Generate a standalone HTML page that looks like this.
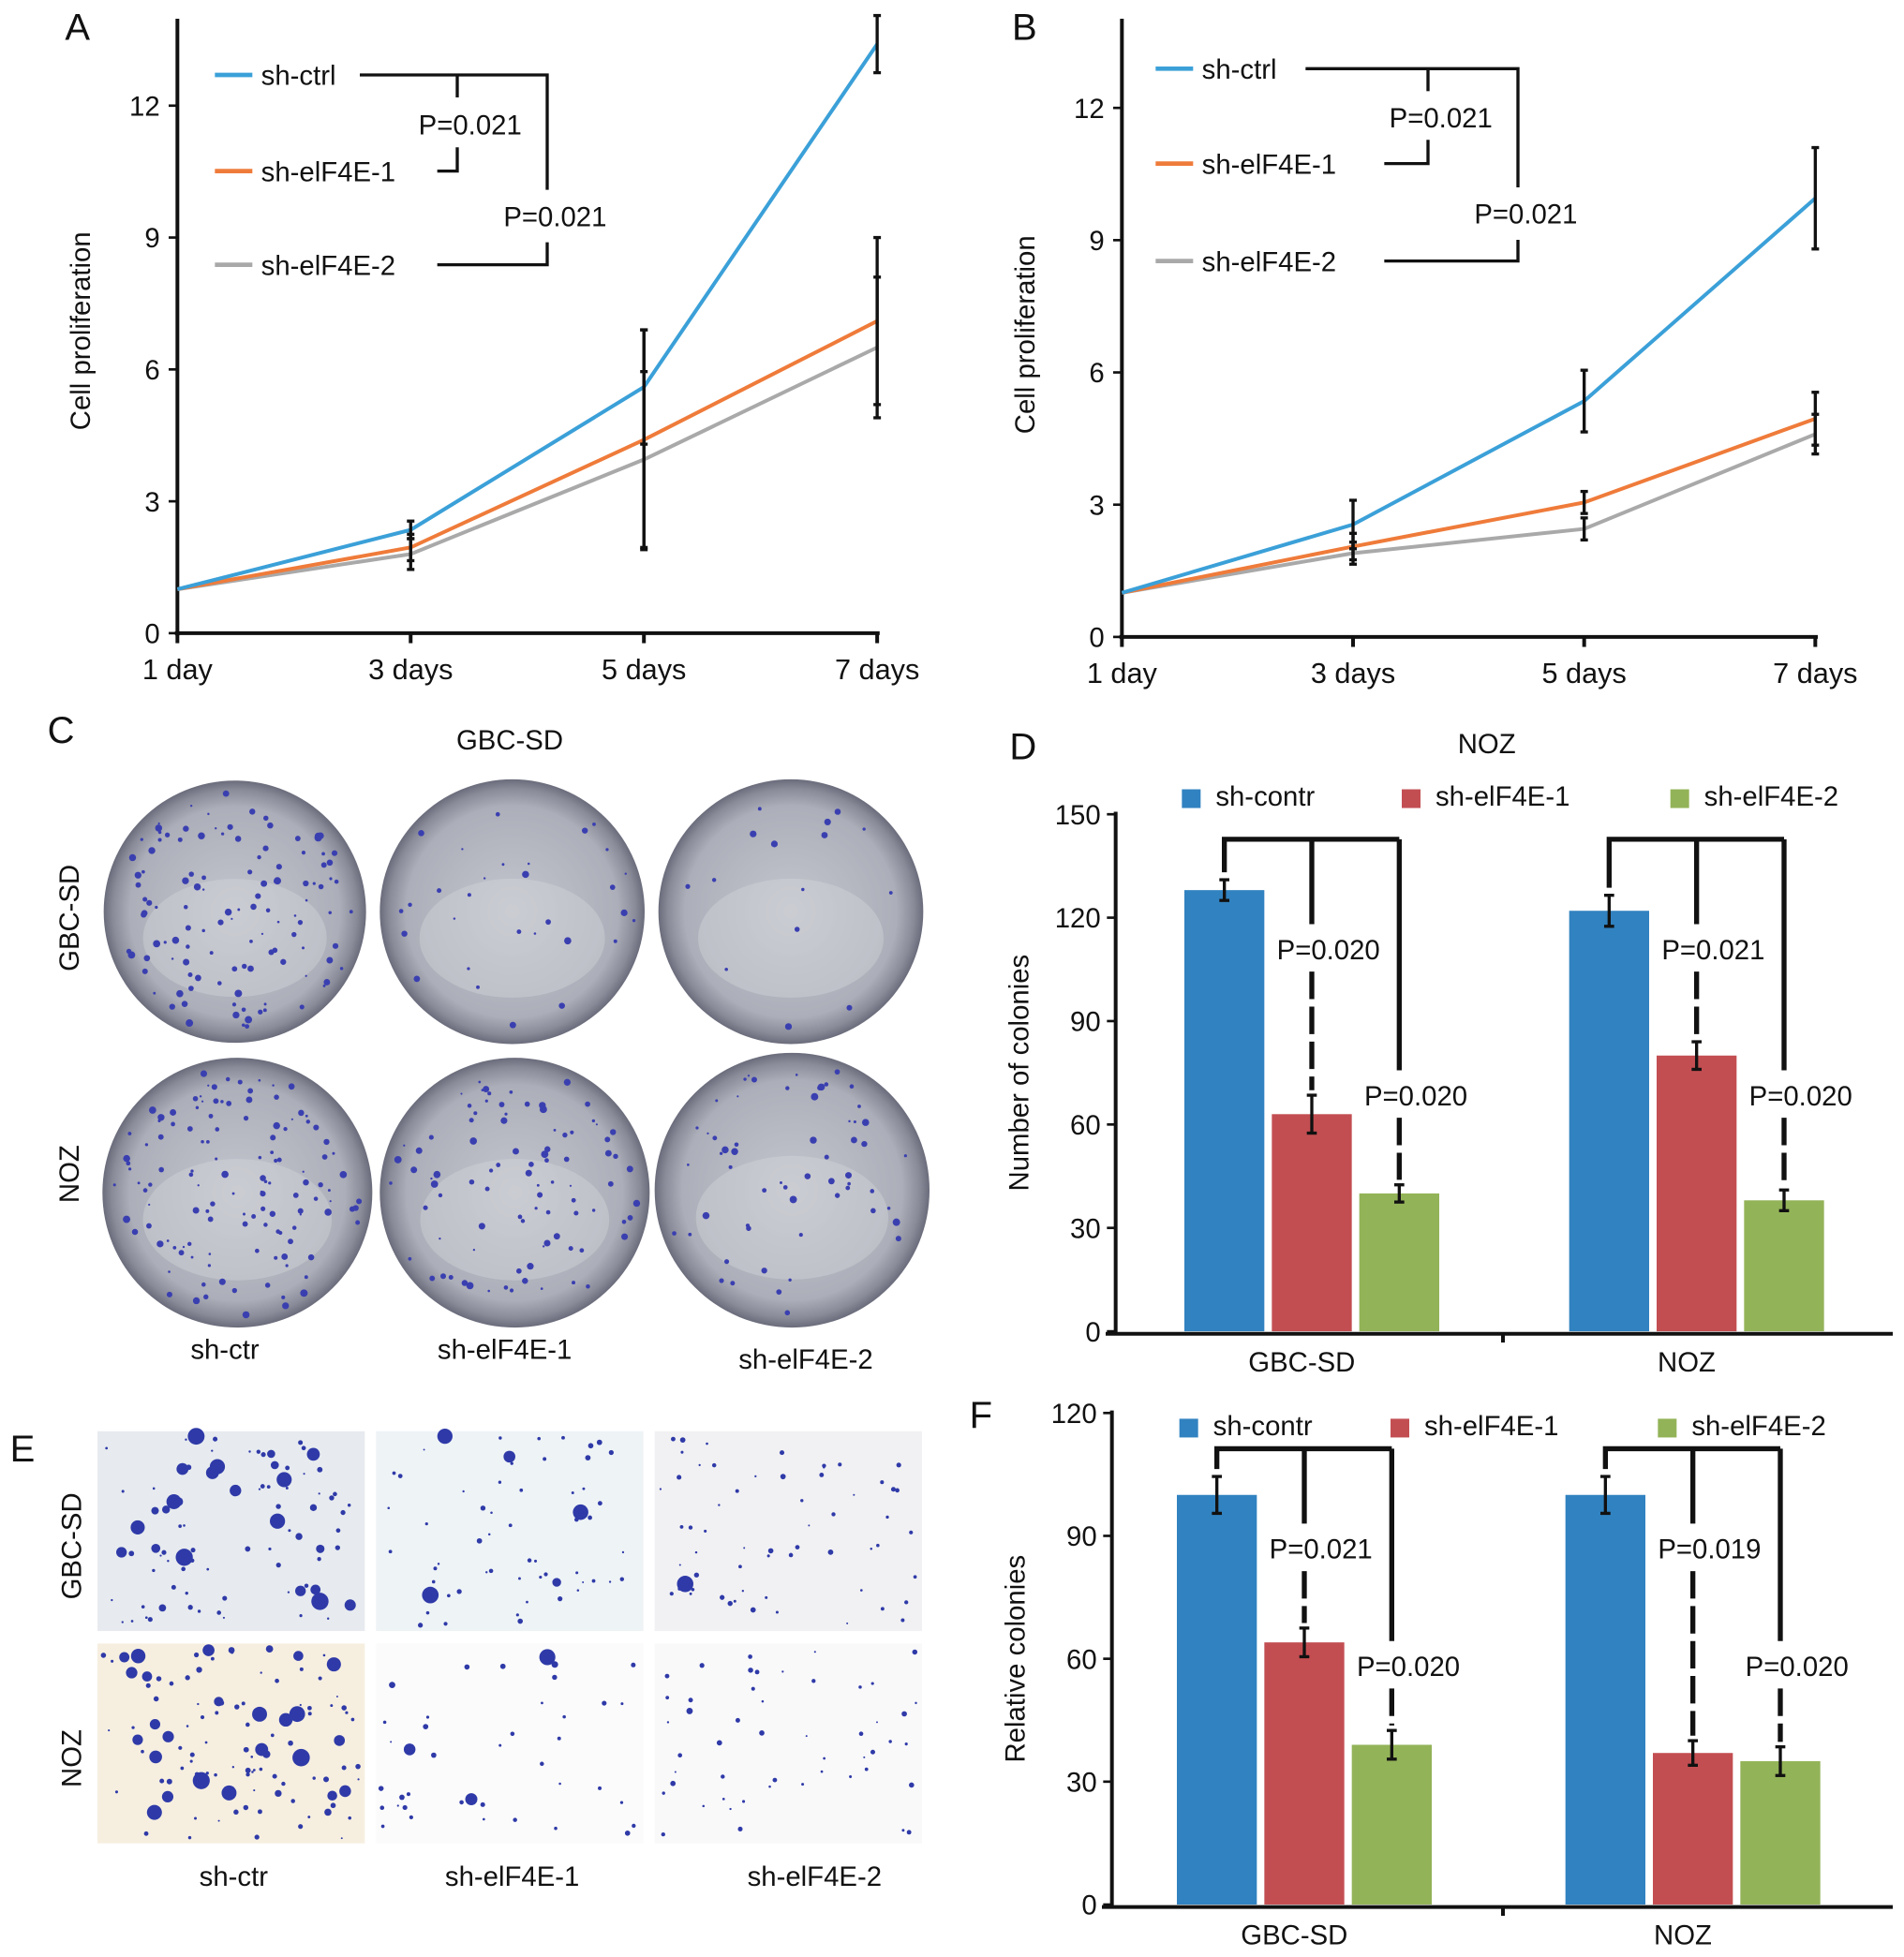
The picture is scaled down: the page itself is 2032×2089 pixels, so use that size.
<!DOCTYPE html>
<html><head><meta charset="utf-8">
<style>
html,body{margin:0;padding:0;background:#fff;}
svg{display:block;font-family:"Liberation Sans",Arial,sans-serif;}
</style></head>
<body>
<svg id="fig" width="2032" height="2089" viewBox="0 0 1524 1567" preserveAspectRatio="none" xmlns="http://www.w3.org/2000/svg">
<defs>
<radialGradient id="dish" cx="50%" cy="50%" r="50%">
<stop offset="0%" stop-color="#c4c6ce"/><stop offset="80%" stop-color="#acaeb9"/><stop offset="93%" stop-color="#898b99"/><stop offset="100%" stop-color="#6a6c7b"/>
</radialGradient>
</defs>
</svg>
<script>
// ---- Line chart data ----
const dayLabels = ["1 day","3 days","5 days","7 days"];
const lineYTicks = [0,3,6,9,12];
const aCtrl = [1,2.35,5.6,13.4];
const aE1 = [1,1.95,4.4,7.1];
const aE2 = [1,1.8,3.95,6.5];
const aErrCtrl = [0,0.2,1.3,0.65];
const aErrE1 = [0,0.3,2.5,1.9];
const aErrE2 = [0,0.35,2.0,1.6];
const bCtrl = [1,2.55,5.35,9.95];
const bE1 = [1,2.05,3.05,4.95];
const bE2 = [1,1.9,2.45,4.6];
const bErrCtrl = [0,0.55,0.7,1.15];
const bErrE1 = [0,0.3,0.25,0.6];
const bErrE2 = [0,0.25,0.25,0.45];
// ---- Bar chart data ----
const barGroups = ["GBC-SD","NOZ"];
const barSeries = ["sh-contr","sh-elF4E-1","sh-elF4E-2"];
const dTicks = [0,30,60,90,120,150];
const dGbc = [128,63,40];
const dNoz = [122,80,38];
const dErrGbc = [3,5.5,2.5];
const dErrNoz = [4.5,4,3];
const dPGbc = ["P=0.020","P=0.020"];
const dPNoz = ["P=0.021","P=0.020"];
const fTicks = [0,30,60,90,120];
const fGbc = [100,64,39];
const fNoz = [100,37,35];
const fErrGbc = [4.5,3.5,3.5];
const fErrNoz = [4.5,3,3.5];
const fPGbc = ["P=0.021","P=0.020"];
const fPNoz = ["P=0.019","P=0.020"];

const NS="http://www.w3.org/2000/svg";
const svg=document.getElementById('fig');
function mk(tag,attrs,name,parent){
  const el=document.createElementNS(NS,tag);
  for(const k in attrs) el.setAttribute(k,attrs[k]);
  
  
  (parent||svg).appendChild(el);
  return el;
}
function txt(x,y,s,size,name,extra){
  const a=Object.assign({x:x,y:y,'font-size':size,fill:'#111'},extra||{});
  const t=mk('text',a,name);
  t.textContent=s;
  return t;
}

// ---------- line charts ----------
function lineChart(cfg){
  const y=v=>cfg.y0-(v)*cfg.ppu;
  const x=i=>cfg.x0+i*cfg.dx;
  mk('line',{x1:cfg.x0,y1:cfg.yTop,x2:cfg.x0,y2:cfg.y0+2,stroke:'#111','stroke-width':3},cfg.p+'-y-axis');
  mk('line',{x1:cfg.x0-2,y1:cfg.y0,x2:x(3)+2,y2:cfg.y0,stroke:'#111','stroke-width':3},cfg.p+'-x-axis');
  lineYTicks.forEach(v=>{
    mk('line',{x1:cfg.x0-7,y1:y(v),x2:cfg.x0,y2:y(v),stroke:'#111','stroke-width':2},cfg.p+'-y-tick');
    txt(cfg.x0-14,y(v)+8,String(v),22,cfg.p+'-y-tick-label',{'text-anchor':'end'});
  });
  dayLabels.forEach((d,i)=>{
    mk('line',{x1:x(i),y1:cfg.y0,x2:x(i),y2:cfg.y0+8,stroke:'#111','stroke-width':3},cfg.p+'-x-tick');
    txt(x(i),cfg.y0+37,d,23,cfg.p+'-x-tick-label',{'text-anchor':'middle'});
  });
  txt(0,0,'Cell proliferation',22,cfg.p+'-y-axis-title',{'text-anchor':'middle',transform:`translate(${cfg.x0-70},${cfg.y0-242}) rotate(-90)`});
  const series=[[cfg.e2,'#a9a9a9',cfg.err2],[cfg.e1,'#ef7b3a',cfg.err1],[cfg.c,'#3ba0d8',cfg.errc]];
  const names=['sh-elF4E-2-line','sh-elF4E-1-line','sh-ctrl-line'];
  series.forEach((s,k)=>{
    mk('polyline',{points:s[0].map((v,i)=>x(i)+','+y(v)).join(' '),fill:'none',stroke:s[1],'stroke-width':3},cfg.p+'-'+names[k]);
  });
  series.forEach((s,k)=>{
    s[0].forEach((v,i)=>{
      if(!s[2][i])return;
      mk('line',{x1:x(i),y1:y(v-s[2][i]),x2:x(i),y2:y(v+s[2][i]),stroke:'#111','stroke-width':2.5},cfg.p+'-error-bar');
      mk('line',{x1:x(i)-3,y1:y(v-s[2][i]),x2:x(i)+3,y2:y(v-s[2][i]),stroke:'#111','stroke-width':2.5},cfg.p+'-error-cap');
      mk('line',{x1:x(i)-3,y1:y(v+s[2][i]),x2:x(i)+3,y2:y(v+s[2][i]),stroke:'#111','stroke-width':2.5},cfg.p+'-error-cap');
    });
  });
  const L=cfg.leg;
  [['sh-ctrl','#3ba0d8',L.y[0]],['sh-elF4E-1','#ef7b3a',L.y[1]],['sh-elF4E-2','#a9a9a9',L.y[2]]].forEach(e=>{
    mk('line',{x1:L.x,y1:e[2],x2:L.x+30,y2:e[2],stroke:e[1],'stroke-width':3.5},cfg.p+'-legend-swatch');
    txt(L.x+37,e[2]+8,e[0],22,cfg.p+'-legend-label');
  });
  const B=cfg.br, st={stroke:'#111','stroke-width':2.5,fill:'none'};
  mk('polyline',Object.assign({points:`${B.s},${L.y[0]} ${B.outer},${L.y[0]} ${B.outer},${B.gap1}`},st),cfg.p+'-bracket-outer');
  mk('polyline',Object.assign({points:`${B.outer},${B.gap2} ${B.outer},${L.y[2]} ${B.e2},${L.y[2]}`},st),cfg.p+'-bracket-outer');
  mk('line',Object.assign({x1:B.inner,y1:L.y[0],x2:B.inner,y2:L.y[0]+18},st),cfg.p+'-bracket-inner');
  mk('polyline',Object.assign({points:`${B.inner},${L.y[1]-19} ${B.inner},${L.y[1]} ${B.e1},${L.y[1]}`},st),cfg.p+'-bracket-inner');
  txt(B.inner-31,(L.y[0]+L.y[1])/2+9,'P=0.021',22,cfg.p+'-p-value-1');
  txt(B.outer-35,(B.gap1+B.gap2)/2+8,'P=0.021',22,cfg.p+'-p-value-2');
  txt(cfg.lab[0],cfg.lab[1],cfg.p.toUpperCase(),30,'panel-label-'+cfg.p);
}
lineChart({p:'a',x0:142,y0:507,yTop:15,ppu:35.2,dx:186.7,c:aCtrl,e1:aE1,e2:aE2,errc:aErrCtrl,err1:aErrE1,err2:aErrE2,
  leg:{x:172,y:[60,137,212]},br:{s:288,outer:438,inner:366,e1:350,e2:350,gap1:152,gap2:194},lab:[52,32]});
lineChart({p:'b',x0:898,y0:510,yTop:15,ppu:35.3,dx:185,c:bCtrl,e1:bE1,e2:bE2,errc:bErrCtrl,err1:bErrE1,err2:bErrE2,
  leg:{x:925,y:[55,131,209]},br:{s:1045,outer:1215,inner:1143,e1:1108,e2:1108,gap1:150,gap2:192},lab:[810,32]});

// ---------- textures ----------
let seed=7;
function rnd(){seed=(seed*16807)%2147483647;return seed/2147483647;}
function dish(cx,cy,r,n,name){
  const g=mk('g',{},name);
  mk('circle',{cx:cx,cy:cy,r:r,fill:'url(#dish)'},name+'-plate',g);
  mk('ellipse',{cx:cx,cy:cy+r*0.2,rx:r*0.7,ry:r*0.45,fill:'#d2d4da',opacity:0.45},name+'-glare',g);
  for(let i=0;i<n;i++){
    const a=rnd()*6.283,d=Math.sqrt(rnd())*(r-8);
    mk('circle',{cx:cx+Math.cos(a)*d,cy:cy+Math.sin(a)*d,r:0.8+rnd()*2.2,fill:'#3a3fb0'},name+'-colony',g);
  }
}
txt(38,595,'C',30,'panel-label-c');
txt(408,600,'GBC-SD',22,'panel-c-title',{'text-anchor':'middle'});
dish(188,730,105,120,'dish-gbcsd-sh-ctr');
dish(410,730,106,30,'dish-gbcsd-sh-eif4e-1');
dish(633,730,106,15,'dish-gbcsd-sh-eif4e-2');
dish(190,955,108,130,'dish-noz-sh-ctr');
dish(412,955,108,90,'dish-noz-sh-eif4e-1');
dish(634,953,110,60,'dish-noz-sh-eif4e-2');
txt(0,0,'GBC-SD',22,'row-label-gbcsd',{'text-anchor':'middle',transform:'translate(63,735) rotate(-90)'});
txt(0,0,'NOZ',22,'row-label-noz',{'text-anchor':'middle',transform:'translate(63,940) rotate(-90)'});
txt(180,1088,'sh-ctr',22,'col-label-sh-ctr',{'text-anchor':'middle'});
txt(404,1088,'sh-elF4E-1',22,'col-label-sh-eif4e-1',{'text-anchor':'middle'});
txt(645,1096,'sh-elF4E-2',22,'col-label-sh-eif4e-2',{'text-anchor':'middle'});

function well(x,y,w,h,bg,n,big,name){
  const g=mk('g',{},name);
  mk('rect',{x:x,y:y,width:w,height:h,fill:bg},name+'-bg',g);
  for(let i=0;i<n;i++){
    const rr=rnd()<big?2+rnd()*5:0.7+rnd()*1.5;
    mk('circle',{cx:x+4+rnd()*(w-8),cy:y+4+rnd()*(h-8),r:rr,fill:'#2f3aa8'},name+'-colony',g);
  }
}
txt(8,1170,'E',30,'panel-label-e');
well(78,1146,214,160,'#e7ebef',90,0.35,'well-gbcsd-sh-ctr');
well(301,1146,214,160,'#eef3f6',60,0.05,'well-gbcsd-sh-eif4e-1');
well(524,1146,214,160,'#f1f1f3',60,0.05,'well-gbcsd-sh-eif4e-2');
well(78,1316,214,160,'#f6efe0',110,0.3,'well-noz-sh-ctr');
well(301,1316,214,160,'#fbfbfb',40,0.08,'well-noz-sh-eif4e-1');
well(524,1316,214,160,'#f9f9fa',50,0.03,'well-noz-sh-eif4e-2');
txt(0,0,'GBC-SD',22,'row-label-e-gbcsd',{'text-anchor':'middle',transform:'translate(65,1238) rotate(-90)'});
txt(0,0,'NOZ',22,'row-label-e-noz',{'text-anchor':'middle',transform:'translate(65,1408) rotate(-90)'});
txt(187,1510,'sh-ctr',22,'e-col-label-sh-ctr',{'text-anchor':'middle'});
txt(410,1510,'sh-elF4E-1',22,'e-col-label-sh-eif4e-1',{'text-anchor':'middle'});
txt(652,1510,'sh-elF4E-2',22,'e-col-label-sh-eif4e-2',{'text-anchor':'middle'});

// ---------- bar charts ----------
const barColors=['#3182c0','#c34e52','#93b358'];
function barChart(cfg){
  const y=v=>cfg.y0-v*cfg.ppu;
  mk('line',{x1:cfg.x0,y1:y(cfg.ticks[cfg.ticks.length-1])-2,x2:cfg.x0,y2:cfg.y0+2,stroke:'#111','stroke-width':3},cfg.p+'-y-axis');
  mk('line',{x1:cfg.x0-8,y1:cfg.y0+2,x2:1515,y2:cfg.y0+2,stroke:'#111','stroke-width':3},cfg.p+'-x-axis');
  mk('line',{x1:1203,y1:cfg.y0+2,x2:1203,y2:cfg.y0+9,stroke:'#111','stroke-width':3},cfg.p+'-x-tick');
  cfg.ticks.forEach(v=>{
    mk('line',{x1:cfg.x0-7,y1:y(v),x2:cfg.x0,y2:y(v),stroke:'#111','stroke-width':2},cfg.p+'-y-tick');
    txt(cfg.x0-12,y(v)+8,String(v),22,cfg.p+'-y-tick-label',{'text-anchor':'end'});
  });
  txt(0,0,cfg.ylab,22,cfg.p+'-y-axis-title',{'text-anchor':'middle',transform:`translate(${cfg.x0-70},${(cfg.y0+y(cfg.ticks[cfg.ticks.length-1]))/2}) rotate(-90)`});
  const groupStart=[cfg.gx[0],cfg.gx[1]], bw=64, step=70;
  [[cfg.g,cfg.eg,cfg.pg],[cfg.n,cfg.en,cfg.pn]].forEach((grp,gi)=>{
    const cxs=[];
    grp[0].forEach((v,k)=>{
      const bx=groupStart[gi]+k*step;
      cxs.push(bx+bw/2);
      mk('rect',{x:bx,y:y(v),width:bw,height:cfg.y0-y(v),fill:barColors[k]},cfg.p+'-bar-'+barGroups[gi].toLowerCase()+'-'+(k+1));
      const e=grp[1][k],cx=bx+bw/2;
      mk('line',{x1:cx,y1:y(v+e),x2:cx,y2:y(v-e),stroke:'#111','stroke-width':2.5},cfg.p+'-error-bar');
      mk('line',{x1:cx-4,y1:y(v+e),x2:cx+4,y2:y(v+e),stroke:'#111','stroke-width':2.5},cfg.p+'-error-cap');
      mk('line',{x1:cx-4,y1:y(v-e),x2:cx+4,y2:y(v-e),stroke:'#111','stroke-width':2.5},cfg.p+'-error-cap');
    });
    const top=cfg.brY, st={stroke:'#111','stroke-width':4,fill:'none'};
    mk('polyline',Object.assign({points:`${cxs[0]},${y(grp[0][0]+grp[1][0])-6} ${cxs[0]},${top} ${cxs[2]},${top}`},st),cfg.p+'-bracket-top');
    [1,2].forEach(k=>{
      const tY=cfg.pY[k-1], endY=y(grp[0][k]+grp[1][k])-4;
      mk('line',Object.assign({x1:cxs[k],y1:top,x2:cxs[k],y2:tY-28},st),cfg.p+'-bracket-drop');
      mk('line',Object.assign({x1:cxs[k],y1:tY+10,x2:cxs[k],y2:endY},Object.assign({},st,{'stroke-dasharray':'22,6'})),cfg.p+'-bracket-drop');
      txt(cxs[k]-28,tY,grp[2][k-1],22,cfg.p+'-p-value');
    });
  });
  barGroups.forEach((gname,gi)=>{
    txt(groupStart[gi]+step+bw/2-8,cfg.y0+32,gname,22,cfg.p+'-x-tick-label',{'text-anchor':'middle'});
  });
  barSeries.forEach((s,k)=>{
    mk('rect',{x:cfg.lx[k],y:cfg.ly-8,width:15,height:15,fill:barColors[k]},cfg.p+'-legend-swatch');
    txt(cfg.lx[k]+27,cfg.ly+5,s,22,cfg.p+'-legend-label');
  });
}
txt(808,608,'D',30,'panel-label-d');
txt(1190,603,'NOZ',22,'panel-d-title',{'text-anchor':'middle'});
barChart({p:'d',x0:893,y0:1066,ppu:2.76,ticks:dTicks,ylab:'Number of colonies',g:dGbc,n:dNoz,eg:dErrGbc,en:dErrNoz,pg:dPGbc,pn:dPNoz,
  gx:[948,1256],brY:672,pY:[768,885],lx:[946,1122,1337],ly:640});
txt(776,1143,'F',30,'panel-label-f');
barChart({p:'f',x0:890,y0:1525,ppu:3.28,ticks:fTicks,ylab:'Relative colonies',g:fGbc,n:fNoz,eg:fErrGbc,en:fErrNoz,pg:fPGbc,pn:fPNoz,
  gx:[942,1253],brY:1160,pY:[1248,1342],lx:[944,1113,1327],ly:1144});
</script>
</body></html>
